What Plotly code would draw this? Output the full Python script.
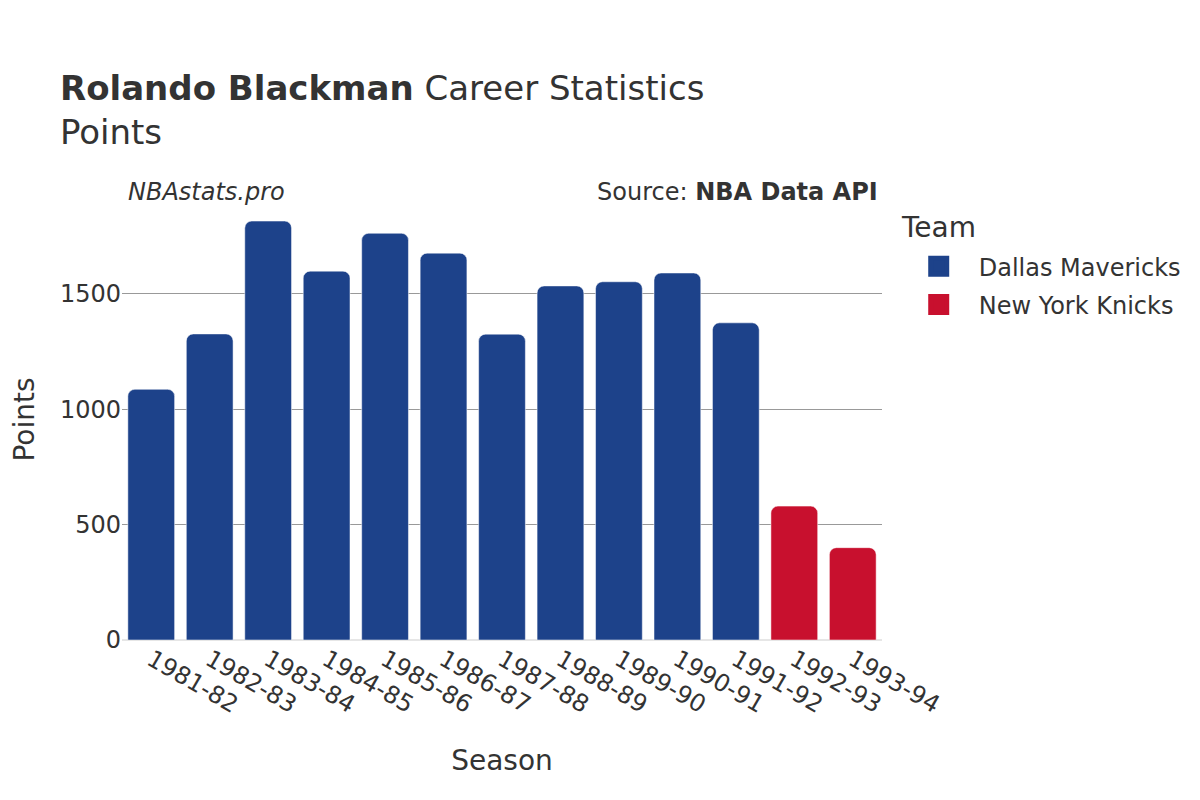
import plotly.graph_objects as go

seasons = ["1981-82", "1982-83", "1983-84", "1984-85", "1985-86", "1986-87", "1987-88",
           "1988-89", "1989-90", "1990-91", "1991-92", "1992-93", "1993-94"]
teams = ["Dallas Mavericks"] * 11 + ["New York Knicks"] * 2
points = [1086, 1326, 1815, 1598, 1762, 1676, 1325, 1534, 1552, 1590, 1374, 580, 400]
team_colors = {"Dallas Mavericks": "#1D428A", "New York Knicks": "#C8102E"}
team_order = ["Dallas Mavericks", "New York Knicks"]

FONT = "DejaVu Sans"

fig = go.Figure()
for team in team_order:
    xs = [s for s, t in zip(seasons, teams) if t == team]
    ys = [p for p, t in zip(points, teams) if t == team]
    fig.add_trace(go.Bar(
        x=xs, y=ys, name=team, showlegend=False, legendgroup=team,
        marker=dict(color=team_colors[team], line=dict(color="rgba(255,255,255,0.5)", width=1),
                    cornerradius=7),
    ))
    # legend entry with a larger square symbol
    fig.add_trace(go.Scatter(
        x=[None], y=[None], mode="markers", name=team, legendgroup=team,
        marker=dict(symbol="square", size=16, color=team_colors[team],
                    line=dict(color=team_colors[team], width=5)),
    ))

fig.update_layout(
    width=1200, height=800,
    barmode="relative", bargap=0.2,
    plot_bgcolor="white", paper_bgcolor="white",
    font=dict(family=FONT, color="#333333", size=18),
    margin=dict(l=114, r=326, t=191, b=168),
    title=dict(
        text="<b>Rolando Blackman</b> Career Statistics<br>Points",
        x=0.0433, xanchor="left", y=0.885, yanchor="top",
        font=dict(size=34, family=FONT, color="#333333"),
    ),
    legend=dict(font=dict(size=24), x=1.022, y=0.8975, yanchor="top",
                itemsizing="trace", tracegroupgap=4, itemwidth=70),
    xaxis=dict(
        title=dict(text="Season", font=dict(size=28), standoff=32), tickangle=30,
        tickfont=dict(size=24), categoryorder="array", categoryarray=seasons,
        showgrid=False,
    ),
    yaxis=dict(
        title=dict(text="Points", font=dict(size=28), standoff=48), tickfont=dict(size=24),
        automargin=False,
        showgrid=True, gridcolor="#999999", gridwidth=1,
        zeroline=True, zerolinecolor="#e6e6e6", zerolinewidth=2,
        tickvals=[0, 500, 1000, 1500],
    ),
    annotations=[
        dict(text="<i>NBAstats.pro</i>", xref="paper", yref="paper", x=0.005, y=1.016,
             xanchor="left", yanchor="middle", showarrow=False, font=dict(size=24)),
        dict(text="Source: <b>NBA Data API</b>", xref="paper", yref="paper", x=0.997, y=1.016,
             xanchor="right", yanchor="middle", showarrow=False, font=dict(size=24)),
        dict(text="Team", xref="paper", yref="paper", x=1.022, y=0.9344,
             xanchor="left", yanchor="middle", showarrow=False, font=dict(size=28)),
    ],
)

fig.write_html("out.html")
